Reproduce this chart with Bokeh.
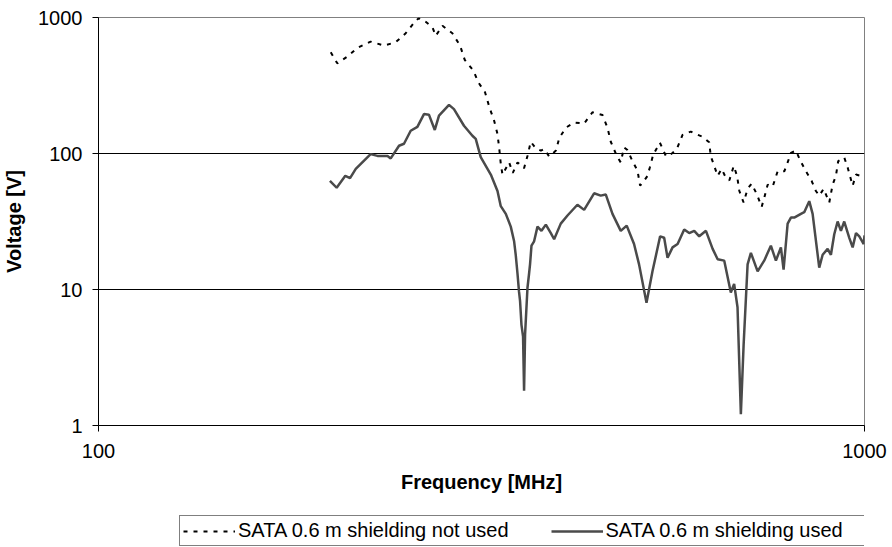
from bokeh.plotting import figure
from bokeh.layouts import column
from bokeh.models import Range1d, FixedTicker, PrintfTickFormatter, Legend, LegendItem
from bokeh.embed import file_html
from bokeh.resources import INLINE

# Frequency [MHz] / Voltage [V]
freq_not_used = [201, 205, 211.3, 217.8, 226.6, 235.9, 244.3, 251.8, 258.2, 261.8,
                 267.4, 272.9, 275.6, 281.2, 289.7, 296.5, 300.7, 308.6, 313.3, 319.6,
                 323.9, 328.4, 331.8, 333.6, 335.1, 336.8, 343.6, 347.4, 352.4, 359.4,
                 363.1, 366.7, 372.3, 378, 381.8, 387.6, 395.5, 399.5, 407.6, 417.9,
                 430.5, 441.4, 454.9, 461.8, 466.4, 474.9, 480.6, 485.4, 490.4, 497.8,
                 505.4, 509.4, 515.5, 520.9, 524.5, 529.8, 540.6, 550.4, 555.9, 568.9,
                 578.7, 593.3, 602.3, 614.5, 626.9, 630.1, 635.2, 643.1, 651, 659.5,
                 666.2, 675, 681.7, 686.5, 695.3, 703.7, 712.2, 723.7, 734, 739.7,
                 747.4, 758.7, 770.2, 785.8, 793.7, 801.6, 813.7, 824.3, 838.6, 853,
                 864.1, 872.8, 884.5, 899.5, 908.6, 917.7, 924, 940.9, 950.6, 965,
                 974.8, 989.5, 1000]
volt_not_used = [555, 460, 516, 598, 665, 622, 658, 766, 914, 990,
                 930, 845, 733, 870, 766, 622, 488, 407, 333, 282,
                 218, 175, 139, 108, 84, 70, 86, 72, 86, 78,
                 96, 122, 109, 105, 108, 95, 105, 130, 155, 169,
                 166, 201, 192, 155, 122, 96, 86, 111, 106, 88,
                 75, 58, 63, 68.5, 79, 98, 120, 96, 96, 108,
                 137, 145, 139, 133, 121, 95, 84, 68.5, 77, 66,
                 63.5, 81, 68.5, 53, 43.6, 55, 60, 50, 40.5, 47,
                 59, 57, 74, 74, 86, 101, 105, 89, 74, 63,
                 53, 49, 55, 43.6, 59, 68.5, 88, 93.5, 79, 58,
                 70, 68.5, 68.5]

freq_used = [200.5, 204.6, 210, 213, 216.7, 226.6, 231.3, 238.4, 240.7, 246.8,
             250.5, 255.6, 260.8, 266, 270, 274.8, 278.3, 286.8, 291.1, 300,
             307.7, 310.8, 315.5, 325.2, 331.8, 335.1, 340.2, 345.3, 348.8, 350.5,
             352.4, 354, 355.1, 356.6, 358.3, 359.4, 360.5, 363.1, 364.8, 365.9,
             367.5, 370.4, 374.2, 378.7, 383.7, 389.5, 393.4, 401.3, 409.5, 421.9,
             430.5, 443.6, 452.5, 459.4, 468.8, 480.6, 489.3, 500.2, 507.8, 519.3,
             528.7, 541, 547.6, 553.2, 561.6, 570.2, 581.6, 590.4, 599.4, 608.5,
             620.9, 633.5, 643.1, 656, 669.1, 675.8, 682.7, 689.6, 695.3, 703.7,
             710.7, 725.2, 739.7, 754.7, 766.2, 777.8, 784.1, 793.7, 801.6, 809.6,
             826, 834.3, 847, 855.6, 872.8, 881.8, 895.1, 904, 913.1, 922.4,
             931.6, 940.9, 955.3, 965, 974.8, 984.5, 997.7, 1000]
volt_used = [63, 56, 68.5, 66, 77, 99, 96, 96, 92, 114,
             118, 147, 157, 195, 193, 149, 190, 228, 212, 160,
             135, 128, 94, 70, 53, 41, 36, 29, 22.6, 18,
             13, 9.6, 8.2, 5.5, 4.5, 1.8, 4.7, 10.3, 13, 15.3,
             21, 22.6, 29, 27, 30, 26, 23.4, 30.5, 35, 42,
             38.5, 51, 49, 50, 36, 27, 29.5, 21.6, 15.3, 8.0,
             13.6, 24.6, 24, 17.1, 20.4, 21.6, 27.6, 26, 27, 24.6,
             27, 19.9, 16.7, 16.3, 9.5, 11, 7.4, 1.21, 3.9, 15.3,
             18.6, 13.6, 16.3, 21, 16.3, 20.4, 14, 30.5, 33.8, 33.8,
             36, 37, 44.6, 36, 14.5, 18, 19.9, 18, 25.5, 31.6,
             27, 31.6, 24, 20.4, 26, 24.6, 21.6, 25]

x_ticks = [100, 1000]
y_ticks = [1, 10, 100, 1000]
series_labels = ["SATA 0.6 m shielding not used", "SATA 0.6 m shielding used"]

FONT = "Liberation Sans"
DASH = "4 6"
SOLID_COLOR = "#4a4a4a"

p = figure(width=892, height=505, x_axis_type="log", y_axis_type="log",
           x_range=Range1d(100, 1000), y_range=Range1d(1, 1000),
           output_backend="svg", toolbar_location=None,
           min_border_left=98, min_border_right=28, min_border_top=17,
           min_border_bottom=80)

p.background_fill_color = "white"
p.border_fill_color = "white"
p.outline_line_color = "#808080"
p.outline_line_width = 1

# grid
p.xgrid.visible = False
p.ygrid.ticker = FixedTicker(ticks=[10, 100, 1000])
p.ygrid.grid_line_color = "black"
p.ygrid.grid_line_width = 1

# axes
for ax in (p.xaxis[0], p.yaxis[0]):
    ax.major_label_text_font = FONT
    ax.major_label_text_font_size = "20px"
    ax.major_label_text_color = "black"
    ax.axis_label_text_font = FONT
    ax.axis_label_text_font_size = "20px"
    ax.axis_label_text_font_style = "bold"
    ax.axis_label_text_color = "black"
    ax.axis_line_color = "black"
    ax.major_tick_line_color = "black"
    ax.major_tick_out = 6
    ax.major_tick_in = 0
    ax.minor_tick_out = 0
    ax.minor_tick_in = 0
    ax.formatter = PrintfTickFormatter(format="%d")

p.xaxis.ticker = FixedTicker(ticks=x_ticks)
p.yaxis.ticker = FixedTicker(ticks=y_ticks)
p.xaxis.axis_label = "Frequency [MHz]"
p.yaxis.axis_label = "Voltage [V]"
p.xaxis.major_label_standoff = 12
p.xaxis.axis_label_standoff = 10
p.yaxis.major_label_standoff = 10
p.yaxis.axis_label_standoff = 10

p.line(freq_not_used, volt_not_used, line_color="black", line_width=2, line_dash=DASH)
p.line(freq_used, volt_used, line_color=SOLID_COLOR, line_width=2.5)

# legend strip below the chart (its frame is aligned with the chart's frame);
# the series are drawn again here but fall outside this strip's ranges
lg = figure(width=892, height=42, output_backend="svg", toolbar_location=None,
            x_axis_location=None, y_axis_location=None,
            min_border_left=98, min_border_right=28, min_border_top=0,
            min_border_bottom=0, x_range=Range1d(0, 1), y_range=Range1d(0, 1))
lg.outline_line_color = None
lg.grid.visible = False
lg.background_fill_color = "white"
lg.border_fill_color = "white"
k_not = lg.line(freq_not_used, volt_not_used, line_color="black", line_width=2,
                line_dash=DASH)
k_used = lg.line(freq_used, volt_used, line_color=SOLID_COLOR, line_width=2.5)

legend = Legend(items=[LegendItem(label=series_labels[0], renderers=[k_not]),
                       LegendItem(label=series_labels[1], renderers=[k_used])],
                orientation="horizontal", location=(81, 1),
                padding=3, spacing=42, margin=0,
                glyph_width=52, glyph_height=20, label_standoff=3,
                label_width=256,
                label_text_font=FONT, label_text_font_size="20px",
                label_text_color="black",
                border_line_color="black", border_line_width=1,
                background_fill_color="white")
lg.add_layout(legend, "center")

layout = column(p, lg, spacing=0)
open("out.html", "w").write(file_html(layout, INLINE))
